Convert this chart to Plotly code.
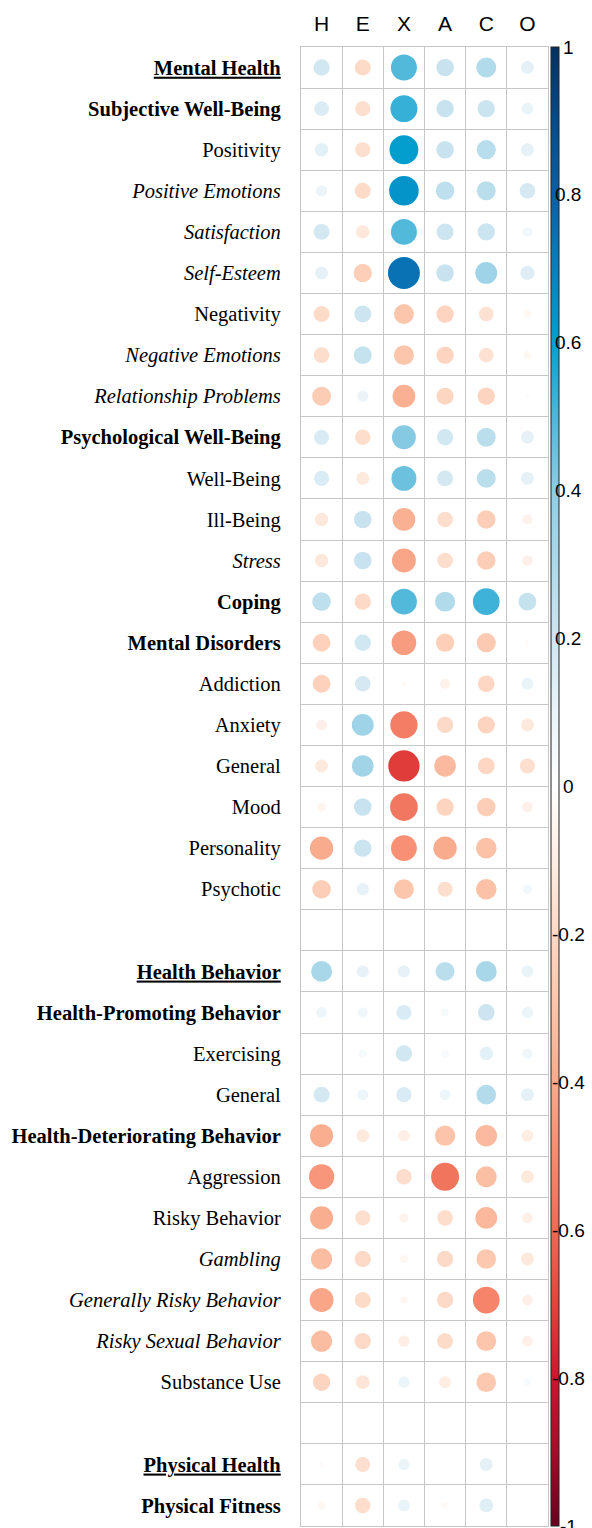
import plotly.graph_objects as go

traits = ["H", "E", "X", "A", "C", "O"]

row_labels = [
    "Mental Health", "Subjective Well-Being", "Positivity", "Positive Emotions",
    "Satisfaction", "Self-Esteem", "Negativity", "Negative Emotions",
    "Relationship Problems", "Psychological Well-Being", "Well-Being", "Ill-Being",
    "Stress", "Coping", "Mental Disorders", "Addiction", "Anxiety", "General",
    "Mood", "Personality", "Psychotic", "",
    "Health Behavior", "Health-Promoting Behavior", "Exercising", "General",
    "Health-Deteriorating Behavior", "Aggression", "Risky Behavior", "Gambling",
    "Generally Risky Behavior", "Risky Sexual Behavior", "Substance Use", "",
    "Physical Health", "Physical Fitness",
]
# bu = bold underlined, b = bold, i = italic, r = regular
row_styles = [
    "bu", "b", "r", "i", "i", "i", "r", "i", "i", "b", "r", "r", "i", "b", "b",
    "r", "r", "r", "r", "r", "r", "",
    "bu", "b", "r", "r", "b", "r", "r", "i", "i", "i", "r", "",
    "bu", "b",
]

H = [0.195, 0.158, 0.130, 0.093, 0.186, 0.121, -0.186, -0.177, -0.262, 0.167, 0.167, -0.130,
     -0.130, 0.252, -0.233, -0.233, -0.084, -0.121, -0.056, -0.395, -0.252, 0.01,
     0.319, 0.084, 0.005, 0.186, -0.386, -0.463, -0.386, -0.328, -0.414, -0.328, -0.219, 0.01,
     -0.021, -0.043]
E = [-0.186, -0.167, -0.167, -0.186, -0.130, -0.243, 0.210, 0.233, 0.093, -0.177, -0.121, 0.224,
     0.224, -0.195, 0.195, 0.177, 0.347, 0.338, 0.224, 0.219, 0.111, 0.01,
     0.111, 0.075, 0.047, 0.084, -0.121, -0.005, -0.167, -0.195, -0.186, -0.195, -0.139, 0.01,
     -0.167, -0.177]
X = [0.491, 0.530, 0.607, 0.636, 0.491, 0.743, -0.290, -0.290, -0.376, 0.414, 0.453, -0.376,
     -0.414, 0.491, -0.443, -0.021, -0.540, -0.714, -0.559, -0.482, -0.290, 0.01,
     0.111, 0.167, 0.195, 0.167, -0.093, -0.177, -0.065, -0.047, -0.043, -0.093, 0.093, 0.01,
     0.093, 0.102]
A = [0.224, 0.224, 0.224, 0.252, 0.210, 0.224, -0.219, -0.219, -0.210, 0.195, 0.186, -0.177,
     -0.177, 0.290, -0.243, -0.075, -0.195, -0.338, -0.219, -0.395, -0.167, 0.01,
     0.262, 0.047, 0.043, 0.084, -0.300, -0.569, -0.177, -0.195, -0.195, -0.186, -0.102, 0.01,
     0.005, -0.030]
C = [0.290, 0.219, 0.271, 0.262, 0.219, 0.347, -0.158, -0.158, -0.219, 0.262, 0.262, -0.252,
     -0.252, 0.520, -0.271, -0.205, -0.219, -0.205, -0.252, -0.309, -0.309, 0.01,
     0.319, 0.205, 0.130, 0.281, -0.338, -0.319, -0.347, -0.281, -0.520, -0.290, -0.281, 0.01,
     0.121, 0.139]
O = [0.121, 0.102, 0.121, 0.177, 0.065, 0.148, -0.047, -0.047, 0.021, 0.121, 0.121, -0.075,
     -0.084, 0.233, -0.021, 0.102, -0.121, -0.167, -0.084, 0.013, 0.065, 0.01,
     0.102, 0.093, 0.075, 0.121, -0.102, -0.121, -0.084, -0.121, -0.084, -0.084, 0.039, 0.01,
     0.01, 0.01]

bar_ticks = [-1, -0.8, -0.6, -0.4, -0.2, 0, 0.2, 0.4, 0.6, 0.8, 1]
bar_ticktext = ["-1", "-0.8", "-0.6", "-0.4", "-0.2", "0", "0.2", "0.4", "0.6", "0.8", "1"]

columns = [H, E, X, A, C, O]
n_rows = len(row_labels)
for col in columns:
    assert len(col) == n_rows

W, HGT = 592, 1528
M_L, M_R, M_T, M_B = 301, 44, 47, 2
plot_w = W - M_L - M_R
cell = plot_w / len(traits)

colorscale = [
    [0.00, "#67001F"], [0.05, "#A50C2A"], [0.10, "#CD1530"], [0.15, "#E3443C"],
    [0.20, "#EF6A55"], [0.25, "#F68A70"], [0.30, "#F9AA8C"], [0.35, "#FCC4AA"],
    [0.40, "#FDD8C5"], [0.45, "#FEEDE4"], [0.50, "#FFFFFF"], [0.55, "#EAF4F9"],
    [0.60, "#D0E6F1"], [0.65, "#AED9EA"], [0.70, "#8ECDE3"], [0.75, "#4DB7DA"],
    [0.80, "#03A0CF"], [0.85, "#0880BF"], [0.90, "#0B5FA5"], [0.95, "#074B8A"],
    [1.00, "#053061"],
]

xs, ys, vals = [], [], []
for ci, col in enumerate(columns):
    for ri, v in enumerate(col):
        xs.append(ci + 1)
        ys.append(ri + 1)
        vals.append(v)
sizes = [0.9 * (abs(v) ** 0.5) * cell for v in vals]


def fmt(label, style):
    if style == "bu":
        return ('<b><span style="text-decoration:underline;'
                'text-decoration-thickness:3px;text-underline-offset:3px">'
                + label + "</span></b>")
    if style == "b":
        return "<b>" + label + "</b>"
    if style == "i":
        return "<i>" + label + "</i>"
    return label


tickvals_y = [i + 1 for i, s in enumerate(row_styles) if s]
ticktext_y = [fmt(row_labels[i], row_styles[i]) for i, s in enumerate(row_styles) if s]

fig = go.Figure()
fig.add_trace(go.Scatter(
    x=xs, y=ys, mode="markers",
    marker=dict(
        size=sizes, color=vals, cmin=-1, cmax=1, colorscale=colorscale,
        opacity=1, line=dict(width=0),
        colorbar=dict(
            thickness=8, thicknessmode="pixels", len=1, lenmode="fraction",
            y=0.5, yanchor="middle", x=1 + 3 / plot_w, xanchor="left", xpad=0, ypad=0,
            outlinewidth=1, outlinecolor="#222222",
            tickvals=bar_ticks, showticklabels=False, ticks="",
        ),
    ),
    hoverinfo="skip", showlegend=False,
))
# invisible trace carrying the colour-bar value axis
fig.add_trace(go.Scatter(x=[None], y=[None], yaxis="y2", showlegend=False,
                         hoverinfo="skip"))

for v, t in zip(bar_ticks, bar_ticktext):
    fig.add_annotation(
        x=1 + 20 / plot_w, xref="paper", xanchor="center",
        y=v, yref="y2", yanchor="middle", text=t, showarrow=False,
        font=dict(family="Liberation Sans, Arial", size=19, color="black"),
    )

grid_color = "#C6C6C6"
fig.update_xaxes(
    range=[0.5, len(traits) + 0.5], side="top", automargin=False,
    tickmode="array", tickvals=list(range(1, len(traits) + 1)), ticktext=traits,
    ticks="outside", ticklen=6, tickcolor="rgba(0,0,0,0)",
    tickfont=dict(family="Liberation Sans, Arial", size=21, color="black"),
    showgrid=False, zeroline=False,
    showline=True, mirror=True, linecolor=grid_color, linewidth=1.3,
    minor=dict(tickmode="linear", tick0=0.5, dtick=1, showgrid=True,
               gridcolor=grid_color, gridwidth=1.3, ticks=""),
    fixedrange=True,
)
fig.update_layout(
    yaxis=dict(
        range=[n_rows + 0.5, 0.5], automargin=False,
        tickmode="array", tickvals=tickvals_y, ticktext=ticktext_y,
        ticks="outside", ticklen=15, tickcolor="rgba(0,0,0,0)",
        tickfont=dict(family="Liberation Serif, Times New Roman", size=20.5, color="black"),
        showgrid=False, zeroline=False,
        showline=True, mirror=True, linecolor=grid_color, linewidth=1.3,
        minor=dict(tickmode="linear", tick0=0.5, dtick=1, showgrid=True,
                   gridcolor=grid_color, gridwidth=1.3, ticks=""),
        fixedrange=True,
    ),
    yaxis2=dict(range=[-1, 1], overlaying="y", side="right", visible=False,
                automargin=False, fixedrange=True),
    width=W, height=HGT,
    margin=dict(l=M_L, r=M_R, t=M_T, b=M_B, pad=0, autoexpand=False),
    paper_bgcolor="white", plot_bgcolor="white",
)
fig.write_html("out.html",
               config={"displayModeBar": False},
               post_script="document.body.style.margin='0';"
                           "document.body.style.overflow='hidden';")
